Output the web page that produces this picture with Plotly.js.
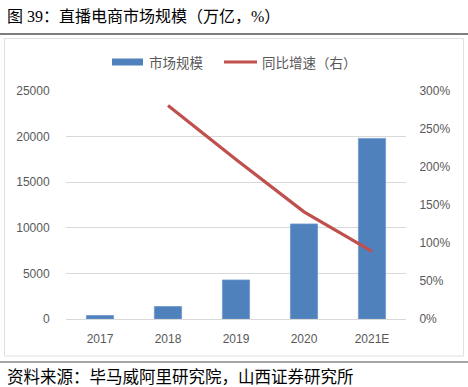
<!DOCTYPE html>
<html>
<head>
<meta charset="utf-8">
<script src="https://cdn.plot.ly/plotly-3.0.1.min.js"></script>
<style>html,body{margin:0;padding:0;background:#fff;}#chart{width:468px;height:387px;}</style>
</head>
<body>
<div id="chart"></div>
<script>
const categories = ['2017', '2018', '2019', '2020', '2021E'];
const marketSize = [385, 1370, 4280, 10420, 19800];
const growthRate = [null, 2.81, 2.10, 1.41, 0.89];
const seriesNames = ['市场规模', '同比增速（右）'];
const titleText = '图 39：直播电商市场规模（万亿，%）';
const sourceText = '资料来源：毕马威阿里研究院，山西证券研究所';

const W = 468, H = 387;
const M = {l: 66, r: 62, t: 91, b: 68};
const PW = W - M.l - M.r, PH = H - M.t - M.b;
const px = x => (x - M.l) / PW;
const py = y => (H - M.b - y) / PH;

const tickFont = {family: 'Liberation Sans, Noto Sans CJK SC', size: 12, color: '#595959'};
const cjk = 'Liberation Serif, Noto Sans CJK SC';

const traces = [
  {type: 'bar', x: categories, y: marketSize, name: seriesNames[0], width: 0.4,
   marker: {color: '#4F81BD', line: {color: '#6f98cc', width: 0.8}}, showlegend: false, yaxis: 'y'},
  {type: 'scatter', mode: 'lines', x: categories, y: growthRate, name: seriesNames[1],
   line: {color: '#C0504D', width: 3.2}, showlegend: false, yaxis: 'y2'}
];

const layout = {
  width: W, height: H,
  margin: M,
  paper_bgcolor: '#fff', plot_bgcolor: '#fff',
  showlegend: false,
  xaxis: {type: 'category', showline: true, linecolor: '#d9d9d9', linewidth: 1,
          ticks: 'outside', ticklen: 9, tickcolor: 'rgba(0,0,0,0)', tickfont: tickFont,
          showgrid: false, zeroline: false, fixedrange: true},
  yaxis: {range: [0, 25000], dtick: 5000, showgrid: true, gridcolor: '#d9d9d9', gridwidth: 1,
          zeroline: false, showline: false, ticks: 'outside', ticklen: 13,
          tickcolor: 'rgba(0,0,0,0)', tickfont: tickFont, tickformat: 'd'},
  yaxis2: {range: [0, 3], dtick: 0.5, overlaying: 'y', side: 'right', showgrid: false,
           zeroline: false, showline: false, ticks: 'outside', ticklen: 10,
           tickcolor: 'rgba(0,0,0,0)', tickfont: tickFont, tickformat: '.0%'},
  shapes: [
    {type: 'line', xref: 'paper', yref: 'paper', x0: px(0), x1: px(468), y0: py(34), y1: py(34),
     line: {color: '#7f7f7f', width: 2}},
    {type: 'rect', xref: 'paper', yref: 'paper', x0: px(4.5), x1: px(463.5), y0: py(38.5), y1: py(356),
     line: {color: '#e0e0e0', width: 1}, layer: 'below'},
    {type: 'line', xref: 'paper', yref: 'paper', x0: px(0), x1: px(468), y0: py(362), y1: py(362),
     line: {color: '#a6a6a6', width: 2}},
    {type: 'rect', xref: 'paper', yref: 'paper', x0: px(112), x1: px(143), y0: py(58.5), y1: py(65.5),
     fillcolor: '#4F81BD', line: {width: 0}},
    {type: 'line', xref: 'paper', yref: 'paper', x0: px(224), x1: px(257), y0: py(62), y1: py(62),
     line: {color: '#C0504D', width: 3.2}}
  ],
  annotations: [
    {text: titleText, xref: 'paper', yref: 'paper', x: px(5), y: py(16), xanchor: 'left', yanchor: 'middle',
     showarrow: false, font: {family: cjk, size: 16, color: '#000'}},
    {text: sourceText, xref: 'paper', yref: 'paper', x: px(5), y: py(375.5), xanchor: 'left', yanchor: 'middle',
     showarrow: false, font: {family: 'Noto Sans CJK SC', size: 16.5, color: '#000'}},
    {text: seriesNames[0], xref: 'paper', yref: 'paper', x: px(147), y: py(62), xanchor: 'left', yanchor: 'middle',
     showarrow: false, font: {family: 'Noto Sans CJK SC', size: 13.5, color: '#595959'}},
    {text: seriesNames[1], xref: 'paper', yref: 'paper', x: px(260), y: py(62), xanchor: 'left', yanchor: 'middle',
     showarrow: false, font: {family: 'Noto Sans CJK SC', size: 13.5, color: '#595959'}}
  ]
};

Plotly.newPlot('chart', traces, layout, {staticPlot: true, displayModeBar: false});
</script>
</body>
</html>
